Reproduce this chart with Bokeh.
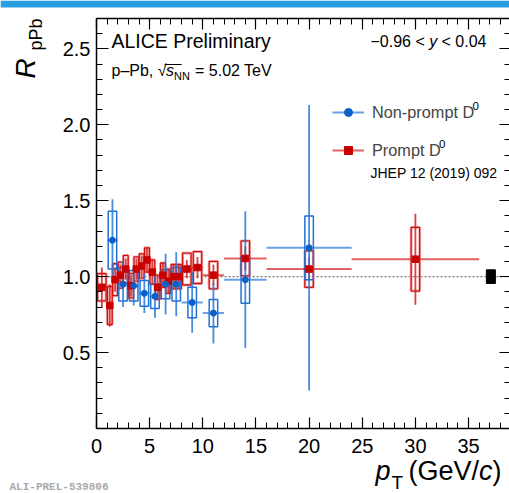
import numpy as np
from bokeh.plotting import figure
from bokeh.models import (ColumnDataSource, Label, LinearAxis, FixedTicker,
                          SingleIntervalTicker, Legend, LegendItem, Range1d,
                          PrintfTickFormatter, CustomJSTickFormatter, BoxAnnotation)
from bokeh.embed import file_html
from bokeh.resources import INLINE

# ---------------- data ----------------
# Non-prompt D0 (ALICE Preliminary)
np_lo = [1, 2, 3, 4, 5, 6, 7, 8, 10, 12, 16]
np_hi = [2, 3, 4, 5, 6, 7, 8, 10, 12, 16, 24]
np_r = [1.24, 0.95, 0.94, 0.89, 0.87, 0.95, 0.95, 0.83, 0.76, 0.98, 1.19]
np_stat = [0.27, 0.15, 0.13, 0.13, 0.14, 0.20, 0.21, 0.20, 0.20, 0.45, 0.94]
np_syst = [0.19, 0.11, 0.10, 0.085, 0.08, 0.095, 0.11, 0.10, 0.09, 0.155, 0.21]

# Prompt D0 (JHEP 12 (2019) 092)
pr_lo = [0, 1, 1.5, 2, 2.5, 3, 3.5, 4, 4.5, 5, 5.5, 6, 6.5, 7, 7.5, 8, 9, 10, 12, 16, 24]
pr_hi = [1, 1.5, 2, 2.5, 3, 3.5, 4, 4.5, 5, 5.5, 6, 6.5, 7, 7.5, 8, 9, 10, 12, 16, 24, 36]
pr_r = [0.93, 0.81, 0.98, 1.01, 1.05, 0.94, 1.05, 1.07, 1.11, 1.03, 0.93, 1.01,
        0.97, 1.00, 1.00, 1.05, 1.06, 1.01, 1.12, 1.05, 1.115]
pr_stat = [0.13, 0.14, 0.08, 0.07, 0.07, 0.07, 0.07, 0.07, 0.08, 0.08, 0.08, 0.08,
           0.08, 0.08, 0.08, 0.06, 0.07, 0.07, 0.08, 0.08, 0.30]
pr_syst = [0.09, 0.125, 0.105, 0.085, 0.09, 0.08, 0.08, 0.08, 0.08, 0.08, 0.08, 0.08,
           0.08, 0.08, 0.08, 0.105, 0.105, 0.09, 0.115, 0.12, 0.21]

# global normalisation uncertainty box
norm_pt = [37.1]
norm_r = [1.0]
norm_unc = [0.045]
ref_level = 1.0

x_tick_step = 5
y_tick_values = [0.5, 1.0, 1.5, 2.0, 2.5]
y_minor_values = [round(0.1 * i, 1) for i in range(0, 28)]

# ---------------- geometry ----------------
W, H = 509, 493
AX_L, AX_B, AX_T = 96, 428, 18          # axes box edges in picture px
SX = 10.63                              # px per GeV/c
Y_END = 2.7
SY = (AX_B - AX_T) / Y_END              # px per unit of R
X_END = (509.5 - AX_L) / SX


def dx(px):
    return (px - AX_L) / SX


def dy(py):
    return (AX_B - py) / SY


# the frame fills the whole canvas; axes are placed at fixed data locations
p = figure(width=W, height=H, x_range=Range1d(dx(0), dx(W)), y_range=Range1d(dy(H), dy(0)),
           output_backend="svg", toolbar_location=None,
           x_axis_location=None, y_axis_location=None, min_border=0)
p.background_fill_color = "white"
p.border_fill_color = "white"
p.outline_line_color = None
p.grid.visible = False

FONT = "Liberation Sans"

# slide header band at the very top
p.add_layout(BoxAnnotation(top=dy(0), bottom=dy(7), fill_color="#2a9ddf", fill_alpha=1.0,
                           line_color=None))

xt = SingleIntervalTicker(interval=x_tick_step, num_minor_ticks=5)
yt = FixedTicker(ticks=y_tick_values, minor_ticks=y_minor_values)


def style_axis(ax, major_in, minor_in, labels):
    ax.major_tick_in = major_in
    ax.major_tick_out = 0
    ax.minor_tick_in = minor_in
    ax.minor_tick_out = 0
    ax.major_tick_line_color = "black"
    ax.minor_tick_line_color = "black"
    ax.major_tick_line_width = 1.2
    ax.minor_tick_line_width = 1.0
    ax.axis_line_color = "black"
    ax.axis_line_width = 1.5
    ax.major_label_text_font = FONT
    ax.major_label_text_font_size = "20px"
    ax.major_label_text_color = "black"
    if not labels:
        ax.formatter = CustomJSTickFormatter(code="return ''")
        ax.major_label_standoff = 0


ax_b = LinearAxis(ticker=xt, fixed_location=0, bounds=(0, X_END))
style_axis(ax_b, 11, 6, True)
ax_b.major_label_standoff = 10
p.add_layout(ax_b, "below")

ax_l = LinearAxis(ticker=yt, formatter=PrintfTickFormatter(format="%.1f"),
                  fixed_location=0, bounds=(0, Y_END))
style_axis(ax_l, 12, 6, True)
ax_l.major_label_standoff = 6
p.add_layout(ax_l, "left")

ax_t = LinearAxis(ticker=xt, fixed_location=Y_END, bounds=(0, X_END))
style_axis(ax_t, 11, 6, False)
p.add_layout(ax_t, "above")

ax_r = LinearAxis(ticker=yt, fixed_location=X_END, bounds=(0, Y_END))
style_axis(ax_r, 11, 6, False)
p.add_layout(ax_r, "right")

# reference line at R = 1
p.segment(x0=[0], y0=[ref_level], x1=[X_END], y1=[ref_level], line_color="#777777",
          line_width=1.3, line_dash="2 2")


def build(lo, hi, r, stat, syst):
    lo = np.array(lo, float)
    hi = np.array(hi, float)
    r = np.array(r, float)
    stat = np.array(stat, float)
    syst = np.array(syst, float)
    x = (lo + hi) / 2
    bw = np.minimum(0.8, 0.9 * (hi - lo))
    return ColumnDataSource(dict(x=x, lo=lo, hi=hi, r=r, ylo=r - stat, yhi=r + stat,
                                 bw=bw, bh=2 * syst))


src_np = build(np_lo, np_hi, np_r, np_stat, np_syst)
src_pr = build(pr_lo, pr_hi, pr_r, pr_stat, pr_syst)

BLUE_L = "#2878d8"
BLUE_M = "#0b5fc9"
RED_L = "#d42020"
RED_M = "#c80000"

# systematic boxes
p.rect("x", "r", width="bw", height="bh", source=src_pr, fill_alpha=0,
       line_color="#f3b5b5", line_width=3)
p.rect("x", "r", width="bw", height="bh", source=src_pr, fill_alpha=0,
       line_color="#d01010", line_width=1.3)
p.rect("x", "r", width="bw", height="bh", source=src_np, fill_alpha=0,
       line_color="#1f72d4", line_width=1.5)

# statistical bars
p.segment(x0="x", y0="ylo", x1="x", y1="yhi", source=src_pr, line_color=RED_L,
          line_width=1.8, line_alpha=0.85)
p.segment(x0="x", y0="ylo", x1="x", y1="yhi", source=src_np, line_color=BLUE_L,
          line_width=1.8, line_alpha=0.85)

# bin widths
pr_h = p.segment(x0="lo", y0="r", x1="hi", y1="r", source=src_pr, line_color=RED_L,
                 line_width=2, line_alpha=0.7)
np_h = p.segment(x0="lo", y0="r", x1="hi", y1="r", source=src_np, line_color=BLUE_L,
                 line_width=2, line_alpha=0.7)

# markers
pr_m = p.scatter("x", "r", source=src_pr, marker="square", size=6.5,
                 fill_color=RED_M, line_color=RED_M)
np_m = p.scatter("x", "r", source=src_np, marker="circle", size=6,
                 fill_color=BLUE_M, line_color=BLUE_M)

# normalisation box
src_norm = ColumnDataSource(dict(x=norm_pt, r=norm_r, h=[2 * u for u in norm_unc]))
p.rect("x", "r", width=0.85, height="h", source=src_norm, fill_color="black",
       line_color="black")

# legend (location = bottom-left corner of the legend, from canvas bottom-left)
legend = Legend(items=[LegendItem(label="Non-prompt D", renderers=[np_h, np_m]),
                       LegendItem(label="Prompt D", renderers=[pr_h, pr_m])],
                location=(332, H - 160), padding=0, margin=0, spacing=18,
                glyph_width=32, glyph_height=20, label_height=20, label_standoff=8,
                label_text_font=FONT, label_text_font_size="16.3px",
                border_line_color=None, background_fill_alpha=0)
p.add_layout(legend)


def lab(px, py, text, size, style="normal", color="black", angle=0.0, font=FONT):
    """px, py: start of the text baseline in picture pixels."""
    if angle == 0.0:
        cx, cy = px, py - 0.35 * size
    else:  # rotated 90 deg counter-clockwise: glyph tops point left
        cx, cy = px - 0.35 * size, py
    p.add_layout(Label(x=dx(cx), y=dy(cy), text=text, text_font=font,
                       text_font_size=f"{size}px", text_font_style=style,
                       text_color=color, angle=angle, text_align="left",
                       text_baseline="middle"))


lab(472, 110, "0", 11.5)
lab(438.5, 148, "0", 11.5)
lab(370, 177, "JHEP 12 (2019) 092", 14)

lab(111, 47, "ALICE Preliminary", 19.5)
# p-Pb, sqrt(s_NN) = 5.02 TeV
lab(111, 76, "p\u2013Pb, \u221a", 16)
lab(165.5, 76, "s", 16, style="italic")
lab(173.5, 79.5, "NN", 11)
lab(194.5, 76, "= 5.02 TeV", 16)
lab(164.5, 76.5, "\u203e\u203e\u203e", 16)

# rapidity range
lab(370, 47, "\u22120.96 <", 16)
lab(428.7, 47, "y", 16, style="italic")
lab(441, 47, "< 0.04", 16)

# y axis title
lab(35, 78, "R", 28, style="italic", angle=np.pi / 2)
lab(41.5, 50, "pPb", 18, angle=np.pi / 2)

# x axis title
lab(375, 480, "p", 27, style="italic")
lab(391, 489, "T", 19)
lab(408, 480, "(GeV/", 27)
lab(478.5, 480, "c", 27, style="italic")
lab(492, 480, ")", 27)

lab(9, 490, "ALI-PREL-539806", 11, style="bold", color="#aaaaaa", font="Liberation Mono")

open("out.html", "w").write(file_html(p, INLINE))
